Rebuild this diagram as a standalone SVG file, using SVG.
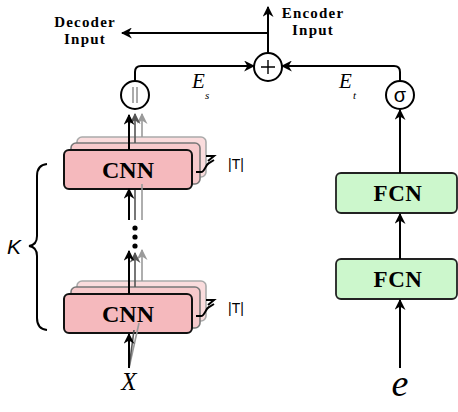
<svg xmlns="http://www.w3.org/2000/svg" width="458" height="412" viewBox="0 0 458 412">
<style>
.ln{fill:none;stroke:#000;stroke-width:2}
.lg1{fill:none;stroke:#555;stroke-width:1.6}
.lg2{fill:none;stroke:#9a9a9a;stroke-width:1.6}
.front{fill:#f5b9bd;stroke:#111;stroke-width:2}
.back1{fill:#f7cacc;stroke:#777;stroke-width:1.6}
.back2{fill:#fadcdd;stroke:#aaa;stroke-width:1.6}
.fcn{fill:#ccf7cc;stroke:#222;stroke-width:1.8}
.op{fill:#fff;stroke:#000;stroke-width:2}
.lbl{font-family:"Liberation Serif",serif;font-weight:bold;fill:#000;text-anchor:middle}
.it{font-family:"Liberation Serif",serif;font-style:italic;fill:#000}
.sans{font-family:"Liberation Sans",sans-serif;fill:#000}
</style>
<defs>
<marker id="ab" viewBox="0 0 10 10" refX="9" refY="5" markerWidth="11" markerHeight="11" markerUnits="userSpaceOnUse" orient="auto"><path d="M0,0 L10,5 L0,10 L3,5 Z" fill="#000"/></marker>
<marker id="ag1" viewBox="0 0 10 10" refX="9" refY="5" markerWidth="11" markerHeight="11" markerUnits="userSpaceOnUse" orient="auto"><path d="M0,0 L10,5 L0,10 L3,5 Z" fill="#555"/></marker>
<marker id="ag2" viewBox="0 0 10 10" refX="9" refY="5" markerWidth="11" markerHeight="11" markerUnits="userSpaceOnUse" orient="auto"><path d="M0,0 L10,5 L0,10 L3,5 Z" fill="#9a9a9a"/></marker>
</defs>
<rect width="458" height="412" fill="#fff"/>

<!-- top CNN stack -->
<g id="cnn-top">
<rect class="back2" x="77" y="137" width="129" height="40" rx="5"/>
<rect class="back1" x="71" y="143" width="129" height="41" rx="5"/>
<path class="lg2" d="M142,137 V114" marker-end="url(#ag2)"/>
<path class="lg1" d="M135,143 V114" marker-end="url(#ag1)"/>
<rect class="front" x="64" y="150" width="128" height="39" rx="5"/>
<text class="lbl" x="128" y="178" font-size="24">CNN</text>
<path class="ln" stroke-width="1.5" d="M196,172 h5 c4,0 4,-7 8,-9 l5,-3 M206,156 h8 l-6,5"/>
<text class="sans" x="228" y="169" font-size="14">|T|</text>
</g>

<!-- bottom CNN stack -->
<g id="cnn-bottom">
<rect class="back2" x="77" y="281" width="129" height="40" rx="5"/>
<rect class="back1" x="71" y="287" width="129" height="41" rx="5"/>
<path class="lg2" d="M142,281 V250" marker-end="url(#ag2)"/>
<path class="lg1" d="M135,287 V253" marker-end="url(#ag1)"/>
<rect class="front" x="64" y="294" width="128" height="39" rx="5"/>
<text class="lbl" x="128" y="322" font-size="24">CNN</text>
<path class="ln" stroke-width="1.5" d="M196,316 h5 c4,0 4,-7 8,-9 l5,-3 M206,300 h8 l-6,5"/>
<text class="sans" x="228" y="313" font-size="14">|T|</text>
</g>

<g id="concat">
<circle class="op" cx="135" cy="95" r="14"/>
<path d="M133,87 V103 M137,87 V103" stroke="#888" stroke-width="1.4"/>
</g>
<g id="plus">
<circle class="op" cx="268" cy="67" r="14"/>
<path d="M268,60 V74 M261,67 H275" stroke="#000" stroke-width="1.4"/>
</g>
<g id="sigma">
<circle class="op" cx="400" cy="95" r="14"/>
<text class="sans" x="400" y="102" font-size="20" text-anchor="middle">σ</text>
</g>
<g id="fcn-top">
<rect class="fcn" x="336" y="173" width="121" height="40" rx="5"/>
<text class="lbl" x="398" y="201" font-size="23" letter-spacing="0.5">FCN</text>
</g>
<g id="fcn-bottom">
<rect class="fcn" x="336" y="259" width="121" height="40" rx="5"/>
<text class="lbl" x="398" y="287" font-size="23" letter-spacing="0.5">FCN</text>
</g>

<g id="connectors">
<path class="ln" d="M129,150 V115" marker-end="url(#ab)"/>
<path class="ln" d="M129,294 V251" marker-end="url(#ab)"/>
<path class="lg1" d="M135,220 V190"/>
<path class="lg2" d="M142,220 V184"/>
<path class="ln" d="M129,220 V189" marker-end="url(#ab)"/>
<path class="lg2" d="M129,368 L139,323"/>
<path class="lg1" d="M129,368 L134,330"/>
<path class="ln" d="M129,368 V334" marker-end="url(#ab)"/>
<path class="ln" d="M135,81 V72 Q135,66 141,66 H254" marker-end="url(#ab)"/>
<path class="ln" d="M400,81 V72 Q400,66 394,66 H282" marker-end="url(#ab)"/>
<path class="ln" d="M268,53 V7" marker-end="url(#ab)"/>
<path class="ln" d="M268,33 H122" marker-end="url(#ab)"/>
<path class="ln" d="M400,173 V110" marker-end="url(#ab)"/>
<path class="ln" d="M400,259 V214" marker-end="url(#ab)"/>
<path class="ln" d="M400,368 V300" marker-end="url(#ab)"/>
</g>

<g id="dots" fill="#000">
<circle cx="135" cy="228" r="2.6"/>
<circle cx="135" cy="237" r="2.6"/>
<circle cx="135" cy="246" r="2.6"/>
</g>

<g id="brace">
<path class="ln" stroke-width="1.6" d="M47,164 Q37,165 37,176 V236 Q37,245 29,246 Q37,247 37,256 V318 Q37,329 47,330"/>
<text class="sans" x="7" y="254" font-size="21" font-style="italic">K</text>
</g>

<g id="labels">
<text class="lbl" x="85" y="27" font-size="15" letter-spacing="1.2">Decoder</text>
<text class="lbl" x="85" y="44" font-size="15" letter-spacing="1.2">Input</text>
<text class="lbl" x="313" y="18" font-size="15" letter-spacing="1.2">Encoder</text>
<text class="lbl" x="313" y="35" font-size="15" letter-spacing="1.2">Input</text>
<text class="it" x="192" y="88" font-size="21">E</text>
<text class="it" x="205" y="99" font-size="11">s</text>
<text class="it" x="339" y="88" font-size="21">E</text>
<text class="it" x="353" y="99" font-size="11">t</text>
<text class="it" x="129" y="390" font-size="25" text-anchor="middle">X</text>
<text class="it" x="400" y="396" font-size="38" text-anchor="middle">e</text>
</g>
</svg>
